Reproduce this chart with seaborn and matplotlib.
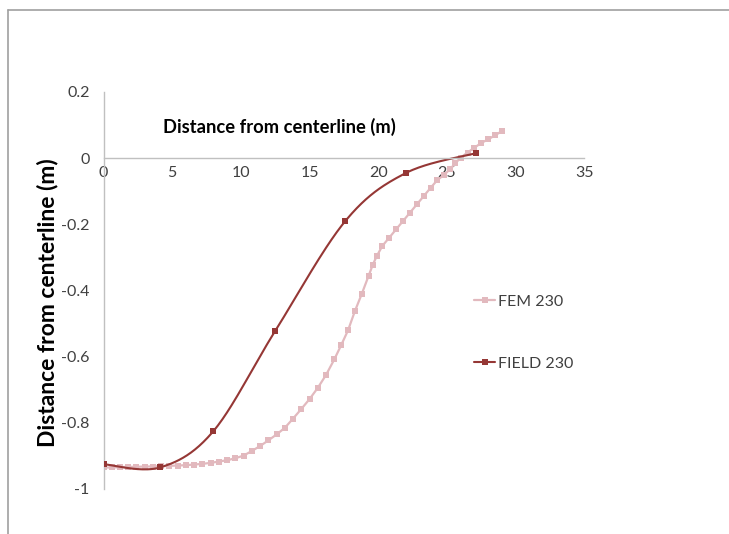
import numpy as np
import pandas as pd
import matplotlib
matplotlib.use("Agg")
import matplotlib.pyplot as plt
from matplotlib.lines import Line2D
import seaborn as sns

# ---- data ----
fem_x = [0, 0.6, 1.2, 1.8, 2.4, 3.0, 3.6, 4.2, 4.8, 5.4, 6.0, 6.6, 7.2, 7.8, 8.4,
         9.0, 9.6, 10.2, 10.8, 11.4, 12.0, 12.6, 13.2, 13.8, 14.4, 15.0, 15.6,
         16.2, 16.8, 17.3, 17.8, 18.3, 18.8, 19.3, 19.6, 19.9, 20.3, 20.8, 21.3,
         21.8, 22.3, 22.8, 23.3, 23.8, 24.3, 24.8, 25.2, 25.6, 26.0, 26.5, 27.0,
         27.5, 28.0, 28.5, 29.0]
fem_y = [-0.935, -0.935, -0.934, -0.933, -0.933, -0.932, -0.932, -0.931, -0.930,
         -0.929, -0.928, -0.926, -0.924, -0.921, -0.917, -0.913, -0.907, -0.899,
         -0.885, -0.870, -0.853, -0.835, -0.815, -0.787, -0.758, -0.728, -0.694,
         -0.655, -0.608, -0.565, -0.520, -0.462, -0.410, -0.355, -0.322, -0.295,
         -0.265, -0.240, -0.215, -0.190, -0.165, -0.140, -0.115, -0.090, -0.066,
         -0.050, -0.034, -0.016, 0.002, 0.017, 0.032, 0.046, 0.057, 0.069, 0.082]
field_x = [0, 4.1, 8.0, 12.5, 17.6, 22.0, 27.1]
field_y = [-0.925, -0.935, -0.825, -0.522, -0.19, -0.045, 0.015]
series_names = ["FEM 230", "FIELD 230"]
x_ticks = [0, 5, 10, 15, 20, 25, 30, 35]
y_ticks = [0.2, 0, -0.2, -0.4, -0.6, -0.8, -1]
axis_title = "Distance from centerline (m)"

FEM_C = "#e2b9be"
FIELD_C = "#953735"
TXT = "#404040"


def excel_smooth(xs, ys, n=40):
    """Excel-style smoothed line (Catmull-Rom via cubic Bezier)."""
    P = np.column_stack([xs, ys]).astype(float)
    out = []
    for i in range(len(P) - 1):
        p0 = P[i - 1] if i > 0 else P[i]
        p1 = P[i]
        p2 = P[i + 1]
        p3 = P[i + 2] if i + 2 < len(P) else P[i + 1]
        c1 = p1 + (p2 - p0) / 6.0
        c2 = p2 - (p3 - p1) / 6.0
        t = np.linspace(0, 1, n)[:, None]
        seg = ((1 - t) ** 3) * p1 + 3 * ((1 - t) ** 2) * t * c1 + 3 * (1 - t) * t ** 2 * c2 + t ** 3 * p2
        out.append(seg if i == 0 else seg[1:])
    arr = np.vstack(out)
    return arr[:, 0], arr[:, 1]


sns.set_theme(style="white")
plt.rcParams["font.family"] = ["Lato", "DejaVu Sans"]

fig = plt.figure(figsize=(7.29, 5.34), dpi=100)
ax = fig.add_axes([103.5 / 729, 1 - 489 / 534, (584.4 - 103.5) / 729, (489 - 92) / 534])

fem_df = pd.DataFrame({"x": fem_x, "y": fem_y})
sns.lineplot(data=fem_df, x="x", y="y", ax=ax, color=FEM_C, lw=1.6, sort=False,
             marker="s", markersize=4, markeredgewidth=0, markerfacecolor=FEM_C)

sx, sy = excel_smooth(field_x, field_y)
smooth_df = pd.DataFrame({"x": sx, "y": sy})
sns.lineplot(data=smooth_df, x="x", y="y", ax=ax, color=FIELD_C, lw=1.5, sort=False)
field_df = pd.DataFrame({"x": field_x, "y": field_y})
sns.scatterplot(data=field_df, x="x", y="y", ax=ax, color=FIELD_C, marker="s", s=14,
                linewidth=0, zorder=5)

ax.set_xlim(0, 35)
ax.set_ylim(-1, 0.2)
ax.set_xticks(x_ticks)
ax.set_yticks(y_ticks)
ax.set_xticklabels([str(v) for v in x_ticks])
ax.set_yticklabels([("%g" % v) for v in y_ticks])
ax.set_xlabel("")
ax.set_ylabel(axis_title, fontsize=16.5, fontweight="bold", color="black")
ax.yaxis.set_label_coords(-0.093, 0.47)

ax.spines["bottom"].set_position(("data", 0))
ax.spines["top"].set_visible(False)
ax.spines["right"].set_visible(False)
for s in ("left", "bottom"):
    ax.spines[s].set_color("#c0c0c0")
    ax.spines[s].set_linewidth(1.0)
ax.tick_params(axis="both", which="major", direction="out", length=4, width=1,
               color="#c0c0c0", labelsize=11.5, labelcolor=TXT)
ax.tick_params(axis="x", pad=2)
ax.tick_params(axis="y", pad=6)
ax.grid(False)
ax.patch.set_alpha(0)

ax.text(4.3, 0.095, axis_title, fontsize=13.2, fontweight="bold", color="black",
        ha="left", va="center")

handles = [
    Line2D([0], [0], color=FEM_C, lw=1.6, marker="s", markersize=4, markeredgewidth=0),
    Line2D([0], [0], color=FIELD_C, lw=1.5, marker="s", markersize=4, markeredgewidth=0),
]
leg = fig.legend(handles, series_names, loc="upper left", bbox_to_anchor=(460 / 729, 1 - 280 / 534),
                 frameon=False, fontsize=11.5, labelspacing=3.0, handlelength=1.3,
                 handletextpad=0.2, labelcolor=TXT)

# outer frame (partial, as in the reference)
fig.add_artist(Line2D([8 / 729, 1], [1 - 10 / 534, 1 - 10 / 534], color="#a0a0a0", lw=1.2,
                      transform=fig.transFigure))
fig.add_artist(Line2D([8 / 729, 8 / 729], [0, 1 - 10 / 534], color="#a0a0a0", lw=1.2,
                      transform=fig.transFigure))

fig.savefig("out.png", dpi=100, facecolor="white")
